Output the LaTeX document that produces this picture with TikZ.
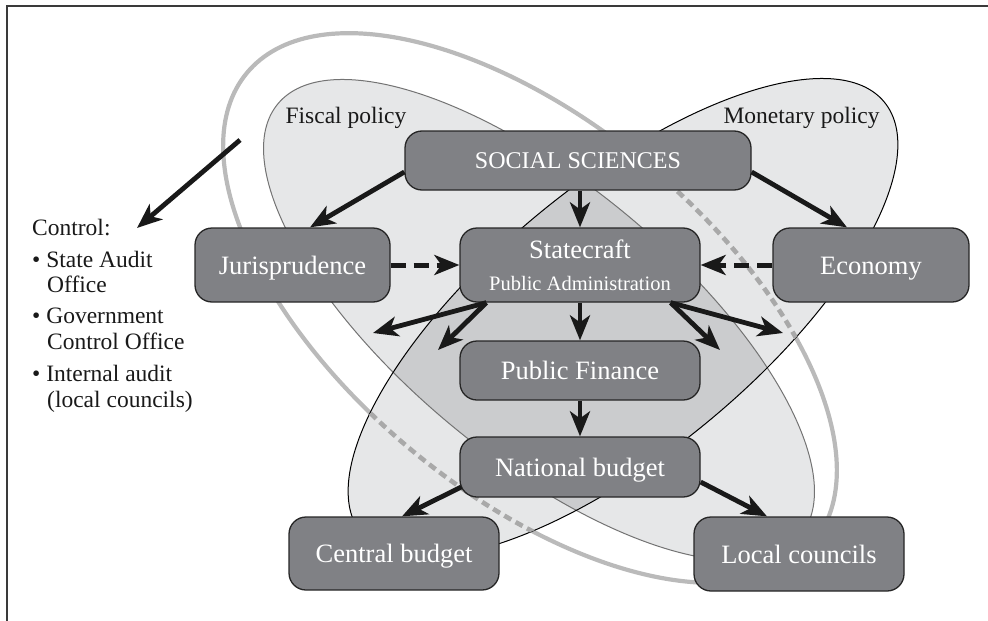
\documentclass[tikz,border=0pt]{standalone}
\usepackage{fontspec}
\setmainfont{Liberation Serif}
\usetikzlibrary{arrows.meta,calc}
\definecolor{lightfill}{HTML}{E6E7E8}
\definecolor{darkfill}{HTML}{CBCCCE}
\definecolor{boxfill}{HTML}{808185}
\definecolor{ringgray}{HTML}{BABABA}
\definecolor{ringdash}{HTML}{A9A9A9}
\definecolor{framegray}{HTML}{3A3A3A}
\begin{document}
\begin{tikzpicture}[x=1pt,y=-1pt,
  box/.style={draw=black!85,line width=1.3pt,fill=boxfill,rounded corners=17pt,text=white,inner sep=0pt,
              font=\fontsize{26.5}{30}\selectfont,text height=18pt,text depth=0pt},
  arr/.style={line width=4.8pt,draw=black!90,-{Stealth[length=25pt,width=20pt,inset=7pt]}},
  darr/.style={arr,line width=5pt,dash pattern=on 15pt off 8pt},
  lbl/.style={font=\fontsize{23.5}{26}\selectfont,inner sep=0pt,text=black!90},
  fiscalT/.style={rotate around={-39.6:(539,320)}},
  monetT/.style={rotate around={39.6:(623,318)}},
  ringT/.style={rotate around={-39.7:(530,308)}}]
\useasboundingbox (0,0) rectangle (988,621);
\draw[framegray,line width=1.8pt] (988,6) -- (7,6) -- (7,621);

% outer ring (solid)
\draw[ringgray,line width=4.2pt,ringT] (530,308) ellipse [x radius=368,y radius=185];
% fills
\fill[lightfill,fiscalT] (539,320) ellipse [x radius=339,y radius=137];
\fill[lightfill,monetT] (623,318) ellipse [x radius=339,y radius=134];
\begin{scope}
  \clip[fiscalT] (539,320) ellipse [x radius=339,y radius=137];
  \fill[darkfill,monetT] (623,318) ellipse [x radius=339,y radius=134];
\end{scope}
\draw[black!55,line width=1pt,fiscalT] (539,320) ellipse [x radius=339,y radius=137];
\draw[black,line width=1pt,monetT] (623,318) ellipse [x radius=339,y radius=134];
% ring dashed where it lies inside the monetary ellipse
\begin{scope}
  \clip[monetT] (623,318) ellipse [x radius=339,y radius=134];
  \draw[ringdash,line width=4.6pt,dash pattern=on 8pt off 5pt,ringT] (530,308) ellipse [x radius=368,y radius=185];
\end{scope}

% labels
\node[lbl,anchor=base] (fis) at (346,123) {Fiscal policy};
\node[lbl,anchor=base] (mon) at (801.5,123) {Monetary policy};
\node[lbl,anchor=base west] (ctl) at (32,235) {Control:};
\node[lbl,anchor=base west] (b1) at (32,267) {\textbullet\ State Audit};
\node[lbl,anchor=base west] (b1b) at (47,292) {Office};
\node[lbl,anchor=base west] (b2) at (32,323) {\textbullet\ Government};
\node[lbl,anchor=base west] (b2b) at (47,349) {Control Office};
\node[lbl,anchor=base west] (b3) at (32,381) {\textbullet\ Internal audit};
\node[lbl,anchor=base west] (b3b) at (47,407) {(local councils)};

% boxes
\node[box,minimum width=346pt,minimum height=59pt,font=\fontsize{24}{28}\selectfont,text height=16.3pt] (soc) at (578,160.5) {SOCIAL SCIENCES};
\node[box,minimum width=195pt,minimum height=74pt] (jur) at (292.5,265) {Jurisprudence};
\node[box,minimum width=240pt,minimum height=74pt] (state) at (580,265) {};
\node[anchor=base,text=white,inner sep=0pt,font=\fontsize{26.5}{30}\selectfont] (stA) at (580,258) {Statecraft};
\node[anchor=base,text=white,inner sep=0pt,font=\fontsize{20.5}{24}\selectfont] (stB) at (580,290) {Public Administration};
\node[box,minimum width=196pt,minimum height=74pt] (econ) at (871,265) {Economy};
\node[box,minimum width=240pt,minimum height=59pt] (pf) at (580,370.5) {Public Finance};
\node[box,minimum width=240pt,minimum height=60pt] (nb) at (580,467) {National budget};
\node[box,minimum width=210pt,minimum height=73pt] (cb) at (394,553.5) {Central budget};
\node[box,minimum width=210pt,minimum height=74pt] (lc) at (799,554) {Local councils};

% free ends
\coordinate (f1) at (373,333);
\coordinate (f2) at (438,350);
\coordinate (f3) at (720,350);
\coordinate (f4) at (783,333);
\coordinate (cs) at (240,140);
\coordinate (ce) at (137,228);

% arrows
\draw[arr] ([yshift=-11.5pt]soc.west) -- ([xshift=17.5pt]jur.north);
\draw[arr] (state.north |- soc.south) -- (state.north);
\draw[arr] ([yshift=-11.5pt]soc.east) -- ([xshift=-24pt]econ.north);
\draw[darr] (jur.east) -- (state.west);
\draw[darr] (econ.west) -- (state.east);
\draw[arr] ([xshift=27pt]state.south west) -- (f1);
\draw[arr] ([xshift=27pt]state.south west) -- (f2);
\draw[arr] (state.south) -- (pf.north);
\draw[arr] ([xshift=-30pt]state.south east) -- (f3);
\draw[arr] ([xshift=-30pt]state.south east) -- (f4);
\draw[arr] (pf.south) -- (nb.north);
\draw[arr] ([xshift=2pt,yshift=-20pt]nb.west) -- ([xshift=8pt]cb.north);
\draw[arr] ([yshift=-15pt]nb.east) -- ([xshift=-32pt]lc.north);
\draw[arr] (cs) -- (ce);
\end{tikzpicture}
\end{document}
